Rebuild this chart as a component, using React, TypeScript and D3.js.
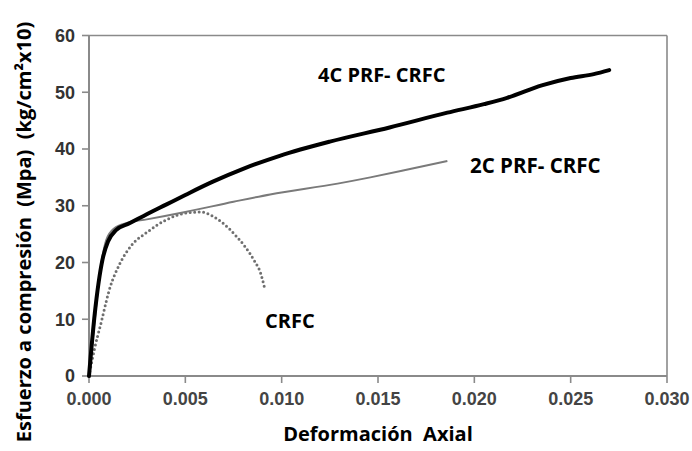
import React from "react";
import * as d3 from "d3";

// Stress–strain curves (axial strain vs compressive stress)
const strain4C = [0, 0.0003, 0.0007, 0.001, 0.0014, 0.0021, 0.003, 0.004, 0.005, 0.0064, 0.008, 0.0099, 0.0125, 0.0156, 0.0186, 0.0205, 0.0217, 0.0235, 0.025, 0.0262, 0.027];
const stress4C = [0, 11, 20.5, 23.8, 25.7, 26.9, 28.5, 30.2, 31.9, 34.2, 36.5, 38.8, 41.3, 43.8, 46.4, 47.9, 49.0, 51.2, 52.5, 53.2, 53.9];

const strain2C = [0, 0.0003, 0.0006, 0.0009, 0.0013, 0.002, 0.003, 0.005, 0.0075, 0.0094, 0.0129, 0.0146, 0.0163, 0.0186];
const stress2C = [0, 10, 19, 24, 26, 27, 27.6, 28.9, 30.7, 32.0, 33.9, 35.0, 36.2, 37.9];

const strainCRFC = [0, 0.0003, 0.0006, 0.0011, 0.0016, 0.0022, 0.003, 0.004, 0.0052, 0.0058, 0.0064, 0.007, 0.0076, 0.0081, 0.0086, 0.0089, 0.0091];
const stressCRFC = [0, 5, 9, 15.7, 19.8, 23, 25.3, 27.5, 28.8, 28.9, 28.2, 26.8, 24.8, 22.8, 20.2, 18.2, 15.7];

const xTicks = [0, 0.005, 0.01, 0.015, 0.02, 0.025, 0.03];
const yTicks = [0, 10, 20, 30, 40, 50, 60];

const W = 692;
const H = 451;
const left = 89;
const right = 667;
const top = 35.5;
const bottom = 376;

export default function App() {
  const x = d3.scaleLinear().domain([0, 0.03]).range([left, right]);
  const y = d3.scaleLinear().domain([0, 60]).range([bottom, top]);

  const line = d3
    .line<[number, number]>()
    .x((d) => x(d[0]))
    .y((d) => y(d[1]))
    .curve(d3.curveMonotoneX);

  const zip = (a: number[], b: number[]) => a.map((v, i) => [v, b[i]] as [number, number]);

  const axisColor = "#8a8a8a";
  const labelFont = "'Open Sans', sans-serif";
  const tickFont = "'Liberation Sans', Arial, sans-serif";

  return (
    <svg
      width={W}
      height={H}
      viewBox={`0 0 ${W} ${H}`}
      style={{ position: "fixed", left: 0, top: 0, background: "#fff" }}
    >
      <rect x={0} y={0} width={W} height={H} fill="#fff" />

      {/* plot frame */}
      <line x1={left} x2={right} y1={top} y2={top} stroke={axisColor} strokeWidth={1.6} />
      <line x1={right} x2={right} y1={top} y2={bottom} stroke={axisColor} strokeWidth={1.6} />

      {/* y axis */}
      <line x1={left} x2={left} y1={top} y2={bottom} stroke={axisColor} strokeWidth={2} />
      {yTicks.map((t) => (
        <g key={`y${t}`}>
          <line x1={left - 7} x2={left} y1={y(t)} y2={y(t)} stroke={axisColor} strokeWidth={1.6} />
          <text
            x={left - 14}
            y={y(t)}
            dy="0.36em"
            textAnchor="end"
            fontFamily={tickFont}
            fontWeight="bold"
            fontSize={18}
            fill="#333"
          >
            {t}
          </text>
        </g>
      ))}

      {/* x axis */}
      <line x1={left} x2={right} y1={bottom} y2={bottom} stroke={axisColor} strokeWidth={2} />
      {xTicks.map((t) => (
        <g key={`x${t}`}>
          <line x1={x(t)} x2={x(t)} y1={bottom} y2={bottom + 7} stroke={axisColor} strokeWidth={1.6} />
          <text
            x={x(t)}
            y={405}
            textAnchor="middle"
            fontFamily={tickFont}
            fontWeight="bold"
            fontSize={18}
            fill="#444"
          >
            {t.toFixed(3)}
          </text>
        </g>
      ))}

      {/* curves */}
      <path
        d={line(zip(strainCRFC, stressCRFC)) || ""}
        fill="none"
        stroke="#6f6f6f"
        strokeWidth={3}
        strokeLinecap="round"
        strokeDasharray="0 4.5"
      />
      <path
        d={line(zip(strain2C, stress2C)) || ""}
        fill="none"
        stroke="#7a7a7a"
        strokeWidth={2}
      />
      <path
        d={line(zip(strain4C, stress4C)) || ""}
        fill="none"
        stroke="#000"
        strokeWidth={4}
        strokeLinecap="round"
      />

      {/* series labels */}
      <text x={318} y={82} fontFamily={labelFont} fontWeight={700} fontSize={20} fill="#000">
        4C PRF- CRFC
      </text>
      <text x={470} y={173} fontFamily={labelFont} fontWeight={700} fontSize={20.5} fill="#000">
        2C PRF- CRFC
      </text>
      <text x={265} y={328} fontFamily={labelFont} fontWeight={700} fontSize={20} fill="#000">
        CRFC
      </text>

      {/* axis titles */}
      <text
        x={378}
        y={441}
        textAnchor="middle"
        fontFamily={labelFont}
        fontWeight={700}
        fontSize={20}
        fill="#000"
        style={{ whiteSpace: "pre" }}
      >
        {"Deformación  Axial"}
      </text>
      <text
        transform={`translate(31, 232) rotate(-90)`}
        textAnchor="middle"
        fontFamily={labelFont}
        fontWeight={700}
        fontSize={20}
        fill="#000"
        style={{ whiteSpace: "pre" }}
      >
        {"Esfuerzo a compresión  (Mpa)  (kg/cm²x10)"}
      </text>
    </svg>
  );
}
